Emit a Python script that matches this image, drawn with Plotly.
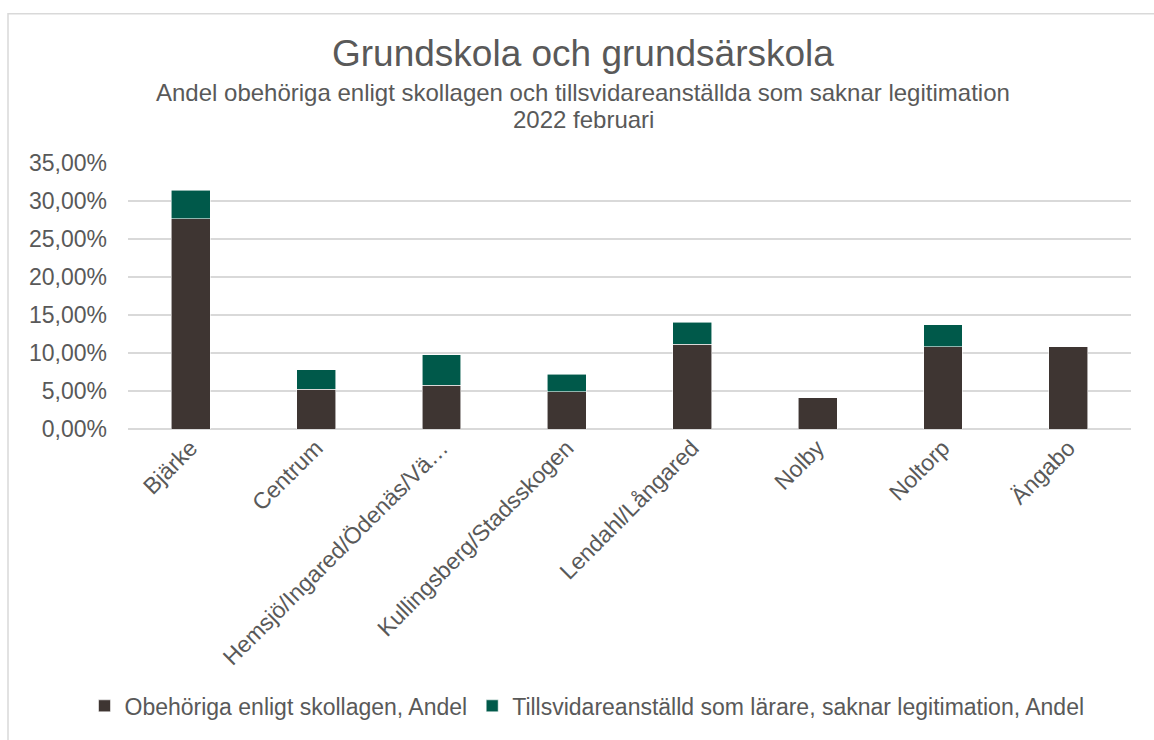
import plotly.graph_objects as go

categories = ["Bjärke", "Centrum", "Hemsjö/Ingared/Ödenäs/Vä…", "Kullingsberg/Stadsskogen",
              "Lendahl/Långared", "Nolby", "Noltorp", "Ängabo"]
obehoriga = [0.2769, 0.0526, 0.0574, 0.0487, 0.1113, 0.0409, 0.1083, 0.1083]
tillsvidare = [0.0370, 0.0256, 0.0400, 0.0235, 0.0291, 0.0, 0.0291, 0.0]
series_names = ["Obehöriga enligt skollagen, Andel",
                "Tillsvidareanställd som lärare, saknar legitimation, Andel"]
colors = ["#3E3532", "#00594A"]

W, H = 1154, 740
L, R, T, B = 128, 23, 163, 308
pw, ph = W - L - R, H - T - B

def px(x):
    return (x - L) / pw

def py(y):
    return (H - B - y) / ph

font = "Liberation Sans, Arial, sans-serif"
grey = "#595959"
fs = 23

fig = go.Figure()
for vals, name, c in zip([obehoriga, tillsvidare], series_names, colors):
    fig.add_trace(go.Bar(x=categories, y=vals, name=name,
                         marker=dict(color=c, line=dict(color="rgba(255,255,255,0.7)", width=0.8))))

fig.update_layout(
    width=W, height=H,
    margin=dict(l=L, r=R, t=T, b=B),
    barmode="stack", bargap=0.69,
    paper_bgcolor="white", plot_bgcolor="white",
    separators=", ",
    font=dict(family=font, color=grey, size=fs),
    showlegend=True,
    legend=dict(orientation="h", x=px(587), xanchor="center", y=py(712), yanchor="middle",
                font=dict(size=fs, color=grey), itemwidth=30, traceorder="normal"),
    xaxis=dict(tickangle=-45, tickfont=dict(size=fs, color=grey), showline=False, ticks=""),
    yaxis=dict(range=[0, 0.35], dtick=0.05, tickformat=".2%", gridcolor="#D9D9D9", gridwidth=1.5,
               zeroline=True, zerolinecolor="#D9D9D9", zerolinewidth=1.5,
               tickfont=dict(size=fs, color=grey), ticklabelstandoff=20),
    annotations=[
        dict(text="Grundskola och grundsärskola", x=px(583), y=py(52), xref="paper", yref="paper",
             showarrow=False, font=dict(size=37, color=grey), xanchor="center", yanchor="middle"),
        dict(text="Andel obehöriga enligt skollagen och tillsvidareanställda som saknar legitimation",
             x=px(583), y=py(92), xref="paper", yref="paper", showarrow=False,
             font=dict(size=24, color=grey), xanchor="center", yanchor="middle"),
        dict(text="2022 februari", x=px(583), y=py(119), xref="paper", yref="paper", showarrow=False,
             font=dict(size=24, color=grey), xanchor="center", yanchor="middle"),
    ],
    shapes=[
        dict(type="rect", xref="paper", yref="paper", x0=px(8), x1=px(1170), y0=py(760), y1=py(12),
             line=dict(color="#D9D9D9", width=1.5), fillcolor="rgba(0,0,0,0)", layer="below"),
    ],
)

fig.write_html("out.html")
